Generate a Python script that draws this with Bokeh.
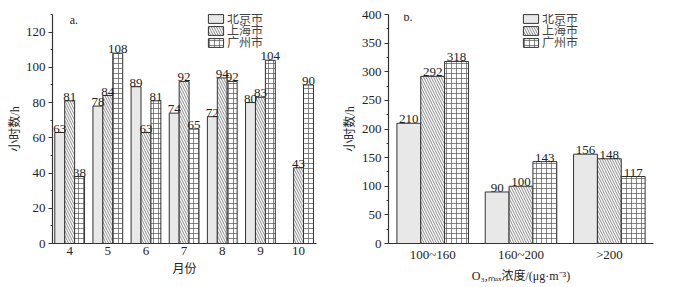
from bokeh.plotting import figure
from bokeh.models import ColumnDataSource, LabelSet, Label, FixedTicker, Legend, LegendItem
from bokeh.transform import dodge
from bokeh.layouts import row
from bokeh.embed import file_html
from bokeh.resources import INLINE
import math

# ---- data ----
months = [4, 5, 6, 7, 8, 9, 10]
month_labels = ["4", "5", "6", "7", "8", "9", "10"]
beijing_m = [63, 78, 89, 74, 72, 80, float("nan")]
shanghai_m = [81, 84, 63, 92, 94, 83, 43]
guangzhou_m = [38, 108, 81, 65, 92, 104, 90]

conc_labels = ["100~160", "160~200", ">200"]
conc_x = [0, 1, 2]
beijing_c = [210, 90, 156]
shanghai_c = [292, 100, 148]
guangzhou_c = [318, 143, 117]

cities = ["北京市", "上海市", "广州市"]

FONT = "Liberation Serif, Noto Sans CJK SC"
LINE = "#333333"
GRAY = "#e8e8e8"

styles = [
    dict(fill_color=GRAY, hatch_pattern=None),
    dict(fill_color="white", hatch_pattern="left_diagonal_line"),
    dict(fill_color="white", hatch_pattern="cross"),
]


def style_axes(p):
    p.outline_line_color = None
    p.xgrid.visible = False
    p.ygrid.visible = False
    for ax in (p.xaxis[0], p.yaxis[0]):
        ax.axis_line_color = LINE
        ax.axis_line_width = 1.2
        ax.major_tick_line_color = LINE
        ax.minor_tick_line_color = LINE
        ax.major_label_text_font = FONT
        ax.major_label_text_font_size = "13px"
        ax.major_label_text_color = "#222222"
        ax.axis_label_text_font = FONT
        ax.axis_label_text_font_size = "12px"
        ax.axis_label_text_font_style = "normal"
        ax.axis_label_text_color = "#222222"
    p.yaxis.major_tick_out = 4
    p.yaxis.major_tick_in = 0
    p.yaxis.minor_tick_out = 2
    p.yaxis.minor_tick_in = 0
    p.xaxis.major_tick_out = 0
    p.xaxis.major_tick_in = 0
    p.xaxis.minor_tick_out = 0
    p.xaxis.minor_tick_in = 0
    p.xaxis.major_label_standoff = 3
    p.yaxis.major_label_standoff = 3


def make_panel(xs, xlabels, series, x_range, y_end, yticks, minor, width, bw,
               w, h, bl, br, bt, bb, xlabel, tag, tag_xy, leg_x, ylab_standoff):
    p = figure(width=w, height=h, x_range=x_range, y_range=(0, y_end),
               output_backend="svg", toolbar_location=None,
               min_border_left=bl, min_border_right=br,
               min_border_top=bt, min_border_bottom=bb)
    style_axes(p)
    p.yaxis.ticker = FixedTicker(ticks=yticks, minor_ticks=minor)
    p.xaxis.ticker = FixedTicker(ticks=xs)
    p.xaxis.major_label_overrides = {x: l for x, l in zip(xs, xlabels)}
    p.xaxis.axis_label = xlabel
    p.yaxis.axis_label = "小时数/h"
    p.xaxis.axis_label_standoff = 4
    p.yaxis.axis_label_standoff = ylab_standoff

    offsets = [-width, 0, width]
    leg_bottoms = [216, 204, 192]
    for name, vals, off, st, lb in zip(cities, series, offsets, styles, leg_bottoms):
        src = ColumnDataSource(dict(x=xs, top=vals))
        r = p.vbar(x=dodge("x", off), top="top", width=bw, source=src,
                   fill_color=st["fill_color"], line_color=LINE, line_width=1,
                   hatch_pattern=st["hatch_pattern"], hatch_color="#555555",
                   hatch_scale=5.0, hatch_weight=0.7)
        lx = [x for x, v in zip(xs, vals) if not math.isnan(v)]
        lv = [v for v in vals if not math.isnan(v)]
        lsrc = ColumnDataSource(dict(x=lx, y=lv, t=[str(int(v)) for v in lv]))
        p.add_layout(LabelSet(x=dodge("x", off), y="y", text="t", source=lsrc,
                              text_align="center", text_baseline="bottom",
                              y_offset=0, text_font=FONT, text_font_size="13px",
                              text_color="#222222"))
        leg = Legend(items=[LegendItem(label=name, renderers=[r])],
                     location=(leg_x, lb), padding=0, margin=0,
                     spacing=0, glyph_width=19, glyph_height=11,
                     label_text_font=FONT, label_text_font_size="12px",
                     label_standoff=2, label_height=11,
                     border_line_color=None, background_fill_alpha=0)
        p.add_layout(leg, "center")
    p.add_layout(Label(x=tag_xy[0], y=tag_xy[1], text=tag, text_font=FONT,
                       text_font_size="12px", text_baseline="middle",
                       text_color="#222222"))
    return p


p1 = make_panel(months, month_labels, [beijing_m, shanghai_m, guangzhou_m],
                (3.55, 10.47), 130, [0, 20, 40, 60, 80, 100, 120],
                [10, 30, 50, 70, 90, 110, 130], 0.26, 0.26,
                338, 285, 52, 22, 13, 40, "月份", "a.", (4.0, 127), 154, 1)

p2 = make_panel(conc_x, conc_labels, [beijing_c, shanghai_c, guangzhou_c],
                (-0.5, 2.5), 400, [0, 50, 100, 150, 200, 250, 300, 350, 400],
                [25, 75, 125, 175, 225, 275, 325, 375], 0.27, 0.27,
                325, 285, 50, 10, 14, 41, "O\u2083,\u2098\u2090\u2093浓度/(μg·m\u207b\u00b3)",
                "b.", (-0.33, 395), 133, 2)

layout = row(p1, p2)
open("out.html", "w").write(file_html(layout, INLINE))
